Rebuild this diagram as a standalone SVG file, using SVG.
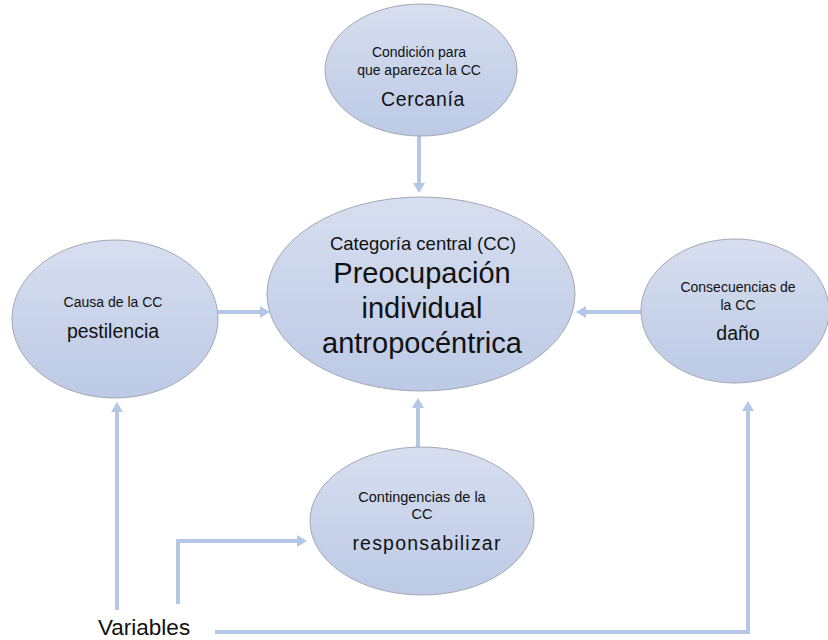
<svg xmlns="http://www.w3.org/2000/svg" width="828" height="640" viewBox="0 0 828 640">
<style>
.node ellipse{fill:url(#g);stroke:#a3a8b3;stroke-width:1}
text{font-family:"Liberation Sans",Arial,sans-serif;fill:#111;text-anchor:middle}
.s{font-size:14px}
.m{font-size:19.5px}
.b{font-size:29px}
.conn{fill:none;stroke:#b4c7e7;stroke-width:4}
</style>
<defs>
<linearGradient id="g" x1="0" y1="0" x2="0" y2="1">
<stop offset="0" stop-color="#d7deef"/>
<stop offset="1" stop-color="#bccae6"/>
</linearGradient>
<marker id="ah" viewBox="0 0 10 12" refX="1" refY="6" markerWidth="10" markerHeight="12" markerUnits="userSpaceOnUse" orient="auto">
<path d="M0,0 L10,6 L0,12 z" fill="#b4c7e7"/>
</marker>
</defs>
<rect width="828" height="640" fill="#fff"/>
<g id="connectors" class="conn">
<path d="M419,136 V184" marker-end="url(#ah)"/>
<path d="M218,312 H261" marker-end="url(#ah)"/>
<path d="M641,312 H585" marker-end="url(#ah)"/>
<path d="M418,447 V407" marker-end="url(#ah)"/>
<path d="M117,610 V411" marker-end="url(#ah)"/>
<path d="M178,604 V541 H298" marker-end="url(#ah)"/>
<path d="M215,632 H748 V410" marker-end="url(#ah)"/>
</g>
<g id="n-top" class="node">
<ellipse cx="421" cy="70" rx="96" ry="66"/>
<text class="s" x="419" y="57">Condición para</text>
<text class="s" x="419" y="75">que aparezca la CC</text>
<text class="m" x="423" y="106" letter-spacing="0.6">Cercanía</text>
</g>
<g id="n-center" class="node">
<ellipse cx="421" cy="294" rx="154" ry="97"/>
<text x="423" y="250" font-size="18.5">Categoría central (CC)</text>
<text class="b" x="422" y="283">Preocupación</text>
<text class="b" x="422" y="318">individual</text>
<text class="b" x="422" y="353">antropocéntrica</text>
</g>
<g id="n-left" class="node">
<ellipse cx="115" cy="319" rx="103" ry="79"/>
<text class="s" x="113" y="307">Causa de la CC</text>
<text class="m" x="113" y="338" font-size="20.5">pestilencia</text>
</g>
<g id="n-right" class="node">
<ellipse cx="735" cy="311" rx="94" ry="72"/>
<text class="s" x="738" y="292">Consecuencias de</text>
<text class="s" x="738" y="310">la CC</text>
<text class="m" x="738" y="340">daño</text>
</g>
<g id="n-bottom" class="node">
<ellipse cx="422" cy="521" rx="112" ry="74"/>
<text x="422" y="502" font-size="14.5">Contingencias de la</text>
<text x="422" y="519" font-size="14.5">CC</text>
<text class="m" x="427" y="550" font-size="18.5" letter-spacing="1.2">responsabilizar</text>
</g>
<g id="n-variables">
<text x="98" y="635" font-size="22.5" style="text-anchor:start">Variables</text>
</g>
</svg>
